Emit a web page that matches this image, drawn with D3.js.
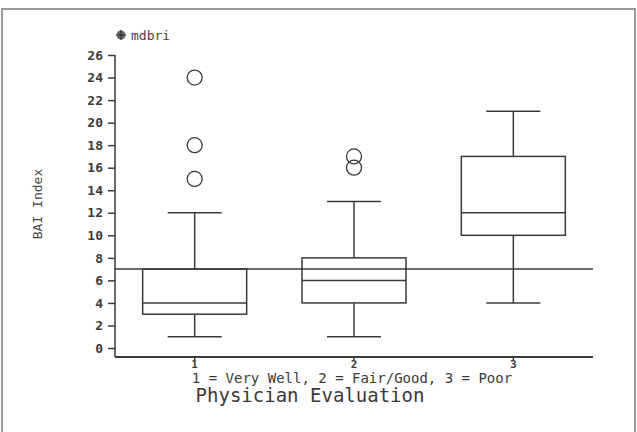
<!DOCTYPE html>
<meta charset="utf-8">
<head>
<style>
  body { margin: 0; background: #fff; }
  svg { display: block; }
  .tick text { font-family: 'DejaVu Sans Mono', monospace; fill: #3a3a3a; }
</style>
</head>
<body>
<svg id="chart" width="637" height="432"></svg>

<script src="https://cdn.jsdelivr.net/npm/d3@7"></script>
<script>

// box summary per physician evaluation group
var categories = ["1", "2", "3"];
var lowWhisker = [1, 1, 4];
var q1 = [3, 4, 10];
var median = [4, 6, 12];
var q3 = [7, 8, 17];
var highWhisker = [12, 13, 21];
var outliers = [[15, 18, 24], [16, 17], []];
var yTicks = [0, 2, 4, 6, 8, 10, 12, 14, 16, 18, 20, 22, 24, 26];
var refLine = 7;

var ink = "#3a3a3a";

var svg = d3.select("#chart");

// scanned page frame
svg.append("path")
    .attr("d", "M2,432 V9 H635 V432")
    .attr("fill", "none")
    .attr("stroke", "#9a9a9a")
    .attr("stroke-width", 2);

var left = 115, right = 593, axisY = 357;

var x = d3.scaleBand().domain(categories).range([left, right]);
var y = d3.scaleLinear().domain([0, 26]).range([348, 55]);

var boxW = 104, capW = 54;

// y axis
var gy = svg.append("g")
    .attr("transform", "translate(" + left + ",0)")
    .call(d3.axisLeft(y).tickValues(yTicks).tickSize(7).tickPadding(5));
gy.select(".domain").remove();
gy.selectAll("line").attr("stroke", ink).attr("stroke-width", 1.5);
gy.selectAll("text").style("font-size", "13px").style("font-weight", "bold");

svg.append("line")
    .attr("x1", left).attr("x2", left)
    .attr("y1", y(26)).attr("y2", axisY)
    .attr("stroke", ink).attr("stroke-width", 1.5);

// x axis
var gx = svg.append("g")
    .attr("transform", "translate(0," + axisY + ")")
    .call(d3.axisBottom(x).tickSize(3).tickPadding(0));
gx.select(".domain").remove();
gx.selectAll("line").attr("stroke", ink).attr("stroke-width", 1.5);
gx.selectAll("text").style("font-size", "11px").style("font-weight", "bold");

svg.append("line")
    .attr("x1", left).attr("x2", right)
    .attr("y1", axisY).attr("y2", axisY)
    .attr("stroke", ink).attr("stroke-width", 2);

// reference line
svg.append("line")
    .attr("x1", left).attr("x2", right)
    .attr("y1", y(refLine)).attr("y2", y(refLine))
    .attr("stroke", ink).attr("stroke-width", 1.5);

// boxes
var g = svg.selectAll(".box")
    .data(categories)
  .enter().append("g")
    .attr("class", "box");

function cx(d) { return x(d) + x.bandwidth() / 2; }

g.append("line")
    .attr("x1", cx).attr("x2", cx)
    .attr("y1", function(d, i) { return y(highWhisker[i]); })
    .attr("y2", function(d, i) { return y(q3[i]); })
    .attr("stroke", ink).attr("stroke-width", 1.5);
g.append("line")
    .attr("x1", cx).attr("x2", cx)
    .attr("y1", function(d, i) { return y(q1[i]); })
    .attr("y2", function(d, i) { return y(lowWhisker[i]); })
    .attr("stroke", ink).attr("stroke-width", 1.5);

[highWhisker, lowWhisker].forEach(function(arr) {
  g.append("line")
      .attr("x1", function(d) { return cx(d) - capW / 2; })
      .attr("x2", function(d) { return cx(d) + capW / 2; })
      .attr("y1", function(d, i) { return y(arr[i]); })
      .attr("y2", function(d, i) { return y(arr[i]); })
      .attr("stroke", ink).attr("stroke-width", 1.5);
});

g.append("rect")
    .attr("x", function(d) { return cx(d) - boxW / 2; })
    .attr("width", boxW)
    .attr("y", function(d, i) { return y(q3[i]); })
    .attr("height", function(d, i) { return y(q1[i]) - y(q3[i]); })
    .attr("fill", "none")
    .attr("stroke", ink).attr("stroke-width", 1.5);

g.append("line")
    .attr("x1", function(d) { return cx(d) - boxW / 2; })
    .attr("x2", function(d) { return cx(d) + boxW / 2; })
    .attr("y1", function(d, i) { return y(median[i]); })
    .attr("y2", function(d, i) { return y(median[i]); })
    .attr("stroke", ink).attr("stroke-width", 1.5);

g.each(function(d, i) {
  d3.select(this).selectAll("circle")
      .data(outliers[i])
    .enter().append("circle")
      .attr("cx", cx(d))
      .attr("cy", function(v) { return y(v); })
      .attr("r", 7.5)
      .attr("fill", "none")
      .attr("stroke", ink).attr("stroke-width", 1.3);
});

// legend
var lg = svg.append("g").attr("transform", "translate(121,35)");
lg.append("circle").attr("r", 4.5).attr("fill", "#666");
lg.append("path").attr("d", "M-5,0H5M0,-5V5").attr("stroke", "#333").attr("stroke-width", 1.2);
lg.append("text")
    .attr("x", 10).attr("dy", "0.35em")
    .style("font-family", "'DejaVu Sans Mono', monospace")
    .style("font-size", "13px")
    .attr("fill", "#444")
    .text("mdbri");

// axis titles
svg.append("text")
    .attr("transform", "translate(37,204) rotate(-90)")
    .attr("text-anchor", "middle")
    .attr("dy", "0.35em")
    .style("font-family", "'DejaVu Sans Mono', monospace")
    .style("font-size", "13px")
    .attr("fill", "#444")
    .text("BAI Index");

svg.append("text")
    .attr("x", 352).attr("y", 383)
    .attr("text-anchor", "middle")
    .style("font-family", "'DejaVu Sans Mono', monospace")
    .style("font-size", "14px")
    .attr("fill", "#3a3a3a")
    .text("1 = Very Well, 2 = Fair/Good, 3 = Poor");

svg.append("text")
    .attr("x", 310).attr("y", 402)
    .attr("text-anchor", "middle")
    .style("font-family", "'DejaVu Sans Mono', monospace")
    .style("font-size", "19px")
    .attr("fill", "#3a3a3a")
    .text("Physician Evaluation");

</script>
</body>
